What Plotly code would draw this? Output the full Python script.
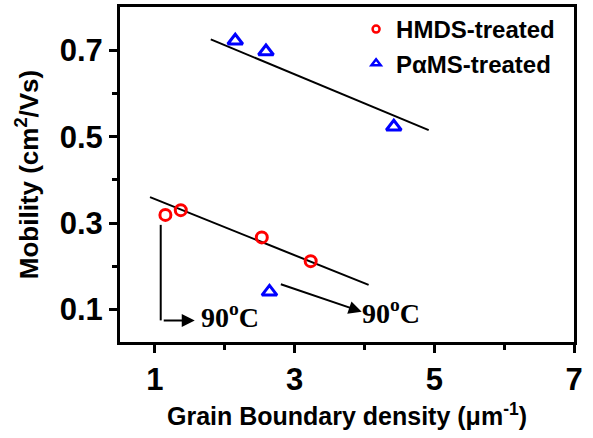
import plotly.graph_objects as go

# Data
hmds_x = [1.15, 1.37, 2.53, 3.23]
hmds_y = [0.319, 0.330, 0.267, 0.212]
pams_x = [2.15, 2.59, 4.42, 2.64]
pams_y = [0.722, 0.697, 0.523, 0.141]
hmds_fit_x = [0.93, 4.06]
hmds_fit_y = [0.360, 0.157]
pams_fit_x = [1.80, 4.92]
pams_fit_y = [0.725, 0.515]
x_ticks = [1, 3, 5, 7]
y_ticks = [0.1, 0.3, 0.5, 0.7]

SANS = "Liberation Sans, Arial, sans-serif"
SERIF = "Liberation Serif, Times New Roman, serif"

fig = go.Figure()
fig.add_trace(go.Scatter(x=hmds_fit_x, y=hmds_fit_y, mode="lines",
                         line=dict(color="black", width=2), showlegend=False))
fig.add_trace(go.Scatter(x=pams_fit_x, y=pams_fit_y, mode="lines",
                         line=dict(color="black", width=2), showlegend=False))
fig.add_trace(go.Scatter(x=hmds_x, y=hmds_y, mode="markers", showlegend=False,
                         marker=dict(symbol="circle-open", size=11, color="red",
                                     line=dict(width=3, color="red"))))
fig.add_trace(go.Scatter(x=pams_x, y=pams_y, mode="markers", showlegend=False,
                         marker=dict(symbol="triangle-up-open", size=13, color="blue",
                                     line=dict(width=3, color="blue"))))
# legend entries
fig.add_trace(go.Scatter(x=[None], y=[None], mode="markers", name="HMDS-treated",
                         marker=dict(symbol="circle-open", size=7, color="red",
                                     line=dict(width=2.5, color="red"))))
fig.add_trace(go.Scatter(x=[None], y=[None], mode="markers", name="P\u03b1MS-treated",
                         marker=dict(symbol="triangle-up-open", size=8, color="blue",
                                     line=dict(width=2.5, color="blue"))))

# L-shaped arrow: vertical segment
fig.add_shape(type="line", x0=1.083, y0=0.296, x1=1.083, y1=0.075, xref="x", yref="y",
              line=dict(color="black", width=2))
fig.add_annotation(x=1.57, y=0.075, ax=1.083, ay=0.075, xref="x", yref="y",
                   axref="x", ayref="y", text=" ", showarrow=True,
                   arrowhead=2, arrowsize=1.3, arrowwidth=2, arrowcolor="black")
fig.add_annotation(x=3.96, y=0.095, ax=2.76, ay=0.161, xref="x", yref="y",
                   axref="x", ayref="y", text=" ", showarrow=True,
                   arrowhead=2, arrowsize=1.3, arrowwidth=2, arrowcolor="black")
fig.add_annotation(x=2.08, y=0.087, xref="x", yref="y", showarrow=False,
                   text="90<sup>o</sup>C", font=dict(family=SERIF, size=28, color="black", weight="bold"))
fig.add_annotation(x=4.38, y=0.096, xref="x", yref="y", showarrow=False,
                   text="90<sup>o</sup>C", font=dict(family=SERIF, size=28, color="black", weight="bold"))

fig.update_layout(
    width=593, height=438,
    margin=dict(l=120, r=19, t=4, b=96),
    plot_bgcolor="white", paper_bgcolor="white",
    font=dict(family=SANS, color="black"),
    legend=dict(x=0.52, y=1.0, xanchor="left", yanchor="top",
                bgcolor="rgba(0,0,0,0)",
                font=dict(family=SANS, size=24, color="black", weight="bold"),
                itemwidth=30, tracegroupgap=0),
    xaxis=dict(range=[0.5, 7], tickvals=x_ticks, ticktext=[str(v) for v in x_ticks],
               showline=True, linecolor="black", linewidth=3, mirror=True,
               ticks="outside", ticklen=8, tickwidth=2.5, tickcolor="black",
               minor=dict(tickvals=[2, 4, 6], ticks="outside", ticklen=5, tickwidth=2.5, tickcolor="black"),
               showgrid=False, zeroline=False,
               tickfont=dict(family=SANS, size=31, color="black", weight="bold"),
               title=dict(text="Grain Boundary density (\u03bcm<sup>-1</sup>)", standoff=12,
                          font=dict(family=SANS, size=25, color="black", weight="bold"))),
    yaxis=dict(range=[0.025, 0.8], tickvals=y_ticks, ticktext=["0.1", "0.3", "0.5", "0.7"],
               showline=True, linecolor="black", linewidth=3, mirror=True,
               ticks="outside", ticklen=8, tickwidth=2.5, tickcolor="black",
               minor=dict(tickvals=[0.2, 0.4, 0.6], ticks="outside", ticklen=5, tickwidth=2.5, tickcolor="black"),
               showgrid=False, zeroline=False,
               tickfont=dict(family=SANS, size=31, color="black", weight="bold"),
               title=dict(text="Mobility (cm<sup>2</sup>/Vs)", standoff=14,
                          font=dict(family=SANS, size=26, color="black", weight="bold"))),
)

fig.write_html("out.html", config={"displayModeBar": False},
               post_script="document.body.style.margin='0';")
